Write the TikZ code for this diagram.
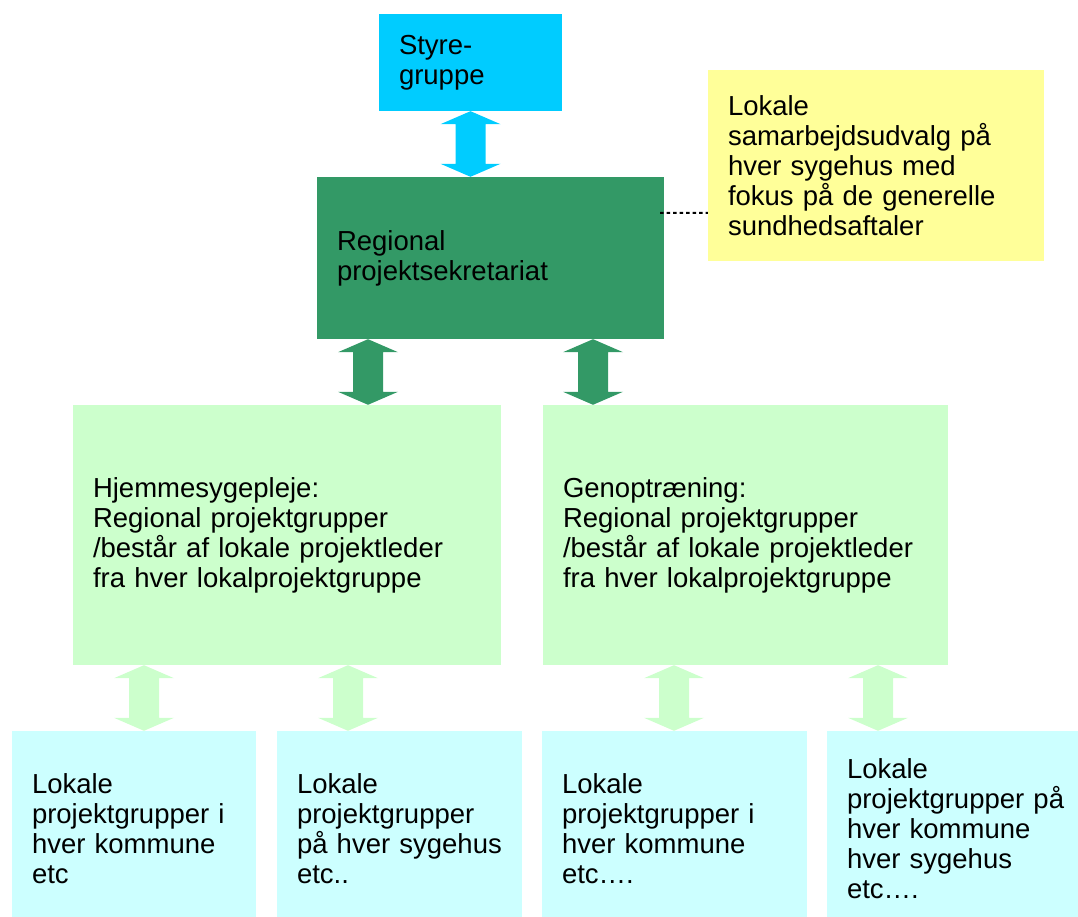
\documentclass[tikz,border=0pt]{standalone}
\usepackage{fontspec}
\setmainfont{Liberation Sans}
\usetikzlibrary{calc}

\definecolor{styrecyan}{HTML}{00CCFF}
\definecolor{sekrgreen}{HTML}{339966}
\definecolor{palegreen}{HTML}{CCFFCC}
\definecolor{palecyan}{HTML}{CCFFFF}
\definecolor{paleyellow}{HTML}{FFFF99}

% fat double arrow between two tips, #1 upper tip, #2 lower tip
\newcommand{\dblarrow}[3]{%
  \fill[#3] (#1) -- ++(30,-13) -- ++(-15,0) -- ($(#2)+(15,13)$) -- ++(15,0)
    -- (#2) -- ++(-30,13) -- ++(15,0) -- ($(#1)+(-15,-13)$) -- ++(-15,0) -- cycle;}

\begin{document}
\begin{tikzpicture}[x=1pt,y=1pt,
  box/.style 2 args={rectangle, inner xsep=20pt, inner ysep=0pt, align=left,
    text width=#1, minimum height=#2, font=\fontsize{27.5}{30}\selectfont},
  dotline/.style={dash pattern=on 3.5pt off 3pt, line width=2pt}]
  \useasboundingbox (0,0) rectangle (1078,917);

  %Top
  \node[box={143pt}{97pt}, fill=styrecyan] (styre) at (470.5,854.5) {Styre-\\gruppe};
  \node[box={307pt}{162pt}, fill=sekrgreen] (sekr) at (490.5,659) {Regional\\projektsekretariat};
  \node[box={296pt}{191pt}, fill=paleyellow] (samarb) at (876,751.5)
    {Lokale\\samarbejdsudvalg på\\hver sygehus med\\fokus på de generelle\\sundhedsaftaler};
  \draw[dotline] ([shift={(-4,-36)}]sekr.north east) -- ([yshift=-47.5]samarb.west);

  %Regional groups
  \node[box={388pt}{260pt}, fill=palegreen] (hjemme) at (287,382)
    {Hjemmesygepleje:\\Regional projektgrupper\\/består af lokale projektleder\\fra hver lokalprojektgruppe};
  \node[box={365pt}{260pt}, fill=palegreen] (genop) at (745.5,382)
    {Genoptræning:\\Regional projektgrupper\\/består af lokale projektleder\\fra hver lokalprojektgruppe};

  %Local groups
  \node[box={204pt}{196pt}, fill=palecyan] (lok1) at (134,88)
    {Lokale\\projektgrupper i\\hver kommune\\etc};
  \node[box={205pt}{196pt}, fill=palecyan] (lok2) at (399.5,88)
    {Lokale\\projektgrupper\\på hver sygehus\\etc..};
  \node[box={225pt}{196pt}, fill=palecyan] (lok3) at (674.5,88)
    {Lokale\\projektgrupper i\\hver kommune\\etc….};
  \node[box={240pt}{196pt}, fill=palecyan] (lok4) at (967,88)
    {Lokale\\projektgrupper på\\hver kommune\\hver sygehus\\etc….};

  %Arrows
  \coordinate (s1) at (styre.south);
  \dblarrow{s1}{s1 |- sekr.north}{styrecyan}
  \coordinate (g1) at ([xshift=-122.5]sekr.south);
  \coordinate (g2) at ([xshift=102.5]sekr.south);
  \dblarrow{g1}{g1 |- hjemme.north}{sekrgreen}
  \dblarrow{g2}{g2 |- genop.north}{sekrgreen}
  \coordinate (h1) at ([xshift=-143]hjemme.south);
  \coordinate (h2) at ([xshift=61]hjemme.south);
  \coordinate (h3) at ([xshift=-71.5]genop.south);
  \coordinate (h4) at ([xshift=-89]lok4.north);
  \dblarrow{h1}{h1 |- lok1.north}{palegreen}
  \dblarrow{h2}{h2 |- lok2.north}{palegreen}
  \dblarrow{h3}{h3 |- lok3.north}{palegreen}
  \dblarrow{h4 |- genop.south}{h4}{palegreen}
\end{tikzpicture}
\end{document}
